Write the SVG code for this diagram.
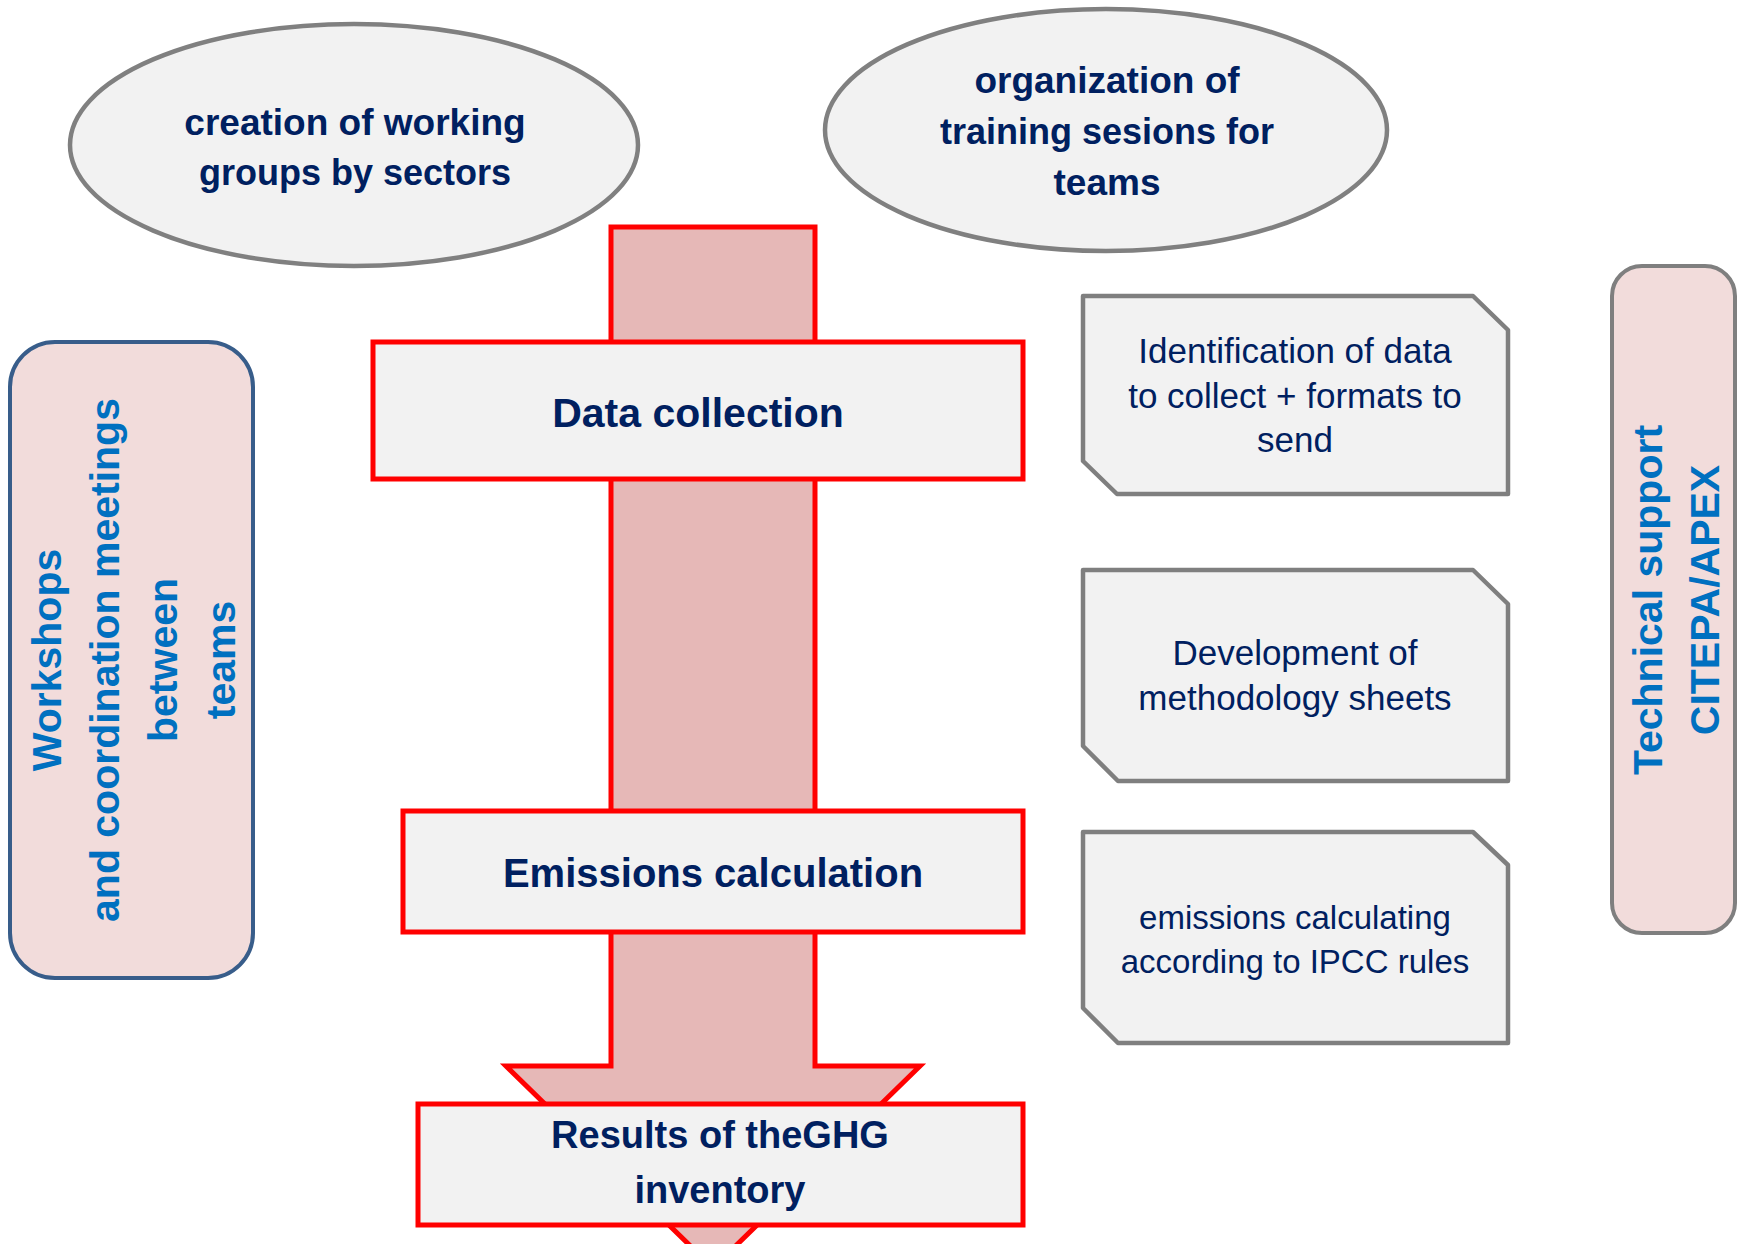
<svg xmlns="http://www.w3.org/2000/svg" width="1740" height="1244" viewBox="0 0 1740 1244">
<style>
.ell{fill:#F2F2F2;stroke:#808080;stroke-width:4.5}
.step{fill:#F2F2F2;stroke:#FF0000;stroke-width:5}
.snip{fill:#F2F2F2;stroke:#7F7F7F;stroke-width:4.5;stroke-linejoin:round}
.side{fill:#F2DCDB;stroke-width:4}
.tb{font-family:"Liberation Sans",Arial,sans-serif;font-weight:bold;fill:#002060;text-anchor:middle}
.tr{font-family:"Liberation Sans",Arial,sans-serif;fill:#002060;text-anchor:middle;font-size:35px}
.tv{font-family:"Liberation Sans",Arial,sans-serif;font-weight:bold;fill:#0070C0;text-anchor:middle;font-size:41px}
</style>
<rect width="1740" height="1244" fill="#FFFFFF"/>
<g id="connectors">
<polygon points="611,227 815,227 815,1066 920,1066 713,1268 506,1066 611,1066" fill="#E6B8B7" stroke="#FF0000" stroke-width="5" stroke-linejoin="miter"/>
</g>
<g id="node-working-groups">
<ellipse class="ell" cx="354" cy="145" rx="284" ry="121"/>
<text class="tb" font-size="37" x="355" y="135">creation of working</text>
<text class="tb" font-size="36" x="355" y="185">groups by sectors</text>
</g>
<g id="node-training">
<ellipse class="ell" cx="1106" cy="130" rx="281" ry="121"/>
<text class="tb" font-size="37" x="1107" y="93">organization of</text>
<text class="tb" font-size="36" x="1107" y="144">training sesions for</text>
<text class="tb" font-size="37" x="1107" y="195">teams</text>
</g>
<g id="node-data-collection">
<rect class="step" x="373" y="342" width="650" height="137"/>
<text class="tb" font-size="41" x="698" y="427">Data collection</text>
</g>
<g id="node-emissions">
<rect class="step" x="403" y="811" width="620" height="121"/>
<text class="tb" font-size="40" x="713" y="887">Emissions calculation</text>
</g>
<g id="node-results">
<rect class="step" x="418" y="1104" width="605" height="121"/>
<text class="tb" font-size="38" x="720" y="1148">Results of theGHG</text>
<text class="tb" font-size="38" x="720" y="1203">inventory</text>
</g>
<g id="node-workshops">
<rect class="side" x="10" y="342" width="243" height="636" rx="45" ry="45" stroke="#385D8A"/>
<text class="tv" transform="translate(61,660) rotate(-90)">Workshops</text>
<text class="tv" transform="translate(119,660) rotate(-90)">and coordination meetings</text>
<text class="tv" transform="translate(177,660) rotate(-90)">between</text>
<text class="tv" transform="translate(235,660) rotate(-90)">teams</text>
</g>
<g id="node-technical-support">
<rect class="side" x="1612" y="266" width="123" height="667" rx="30" ry="30" stroke="#7F7F7F"/>
<text class="tv" transform="translate(1662,600) rotate(-90)">Technical support</text>
<text class="tv" transform="translate(1719,600) rotate(-90)">CITEPA/APEX</text>
</g>
<g id="node-identification">
<polygon class="snip" points="1083,296 1473,296 1508,330 1508,494 1117,494 1083,461"/>
<text class="tr" x="1295" y="363">Identification of data</text>
<text class="tr" x="1295" y="408">to collect + formats to</text>
<text class="tr" x="1295" y="452">send</text>
</g>
<g id="node-methodology">
<polygon class="snip" points="1083,570 1473,570 1508,604 1508,781 1118,781 1083,746"/>
<text class="tr" x="1295" y="665">Development of</text>
<text class="tr" x="1295" y="710">methodology sheets</text>
</g>
<g id="node-ipcc">
<polygon class="snip" points="1083,832 1473,832 1508,865 1508,1043 1118,1043 1083,1008"/>
<text class="tr" font-size="33" style="font-size:33px" x="1295" y="929">emissions calculating</text>
<text class="tr" style="font-size:33px" x="1295" y="973">according to IPCC rules</text>
</g>
</svg>
